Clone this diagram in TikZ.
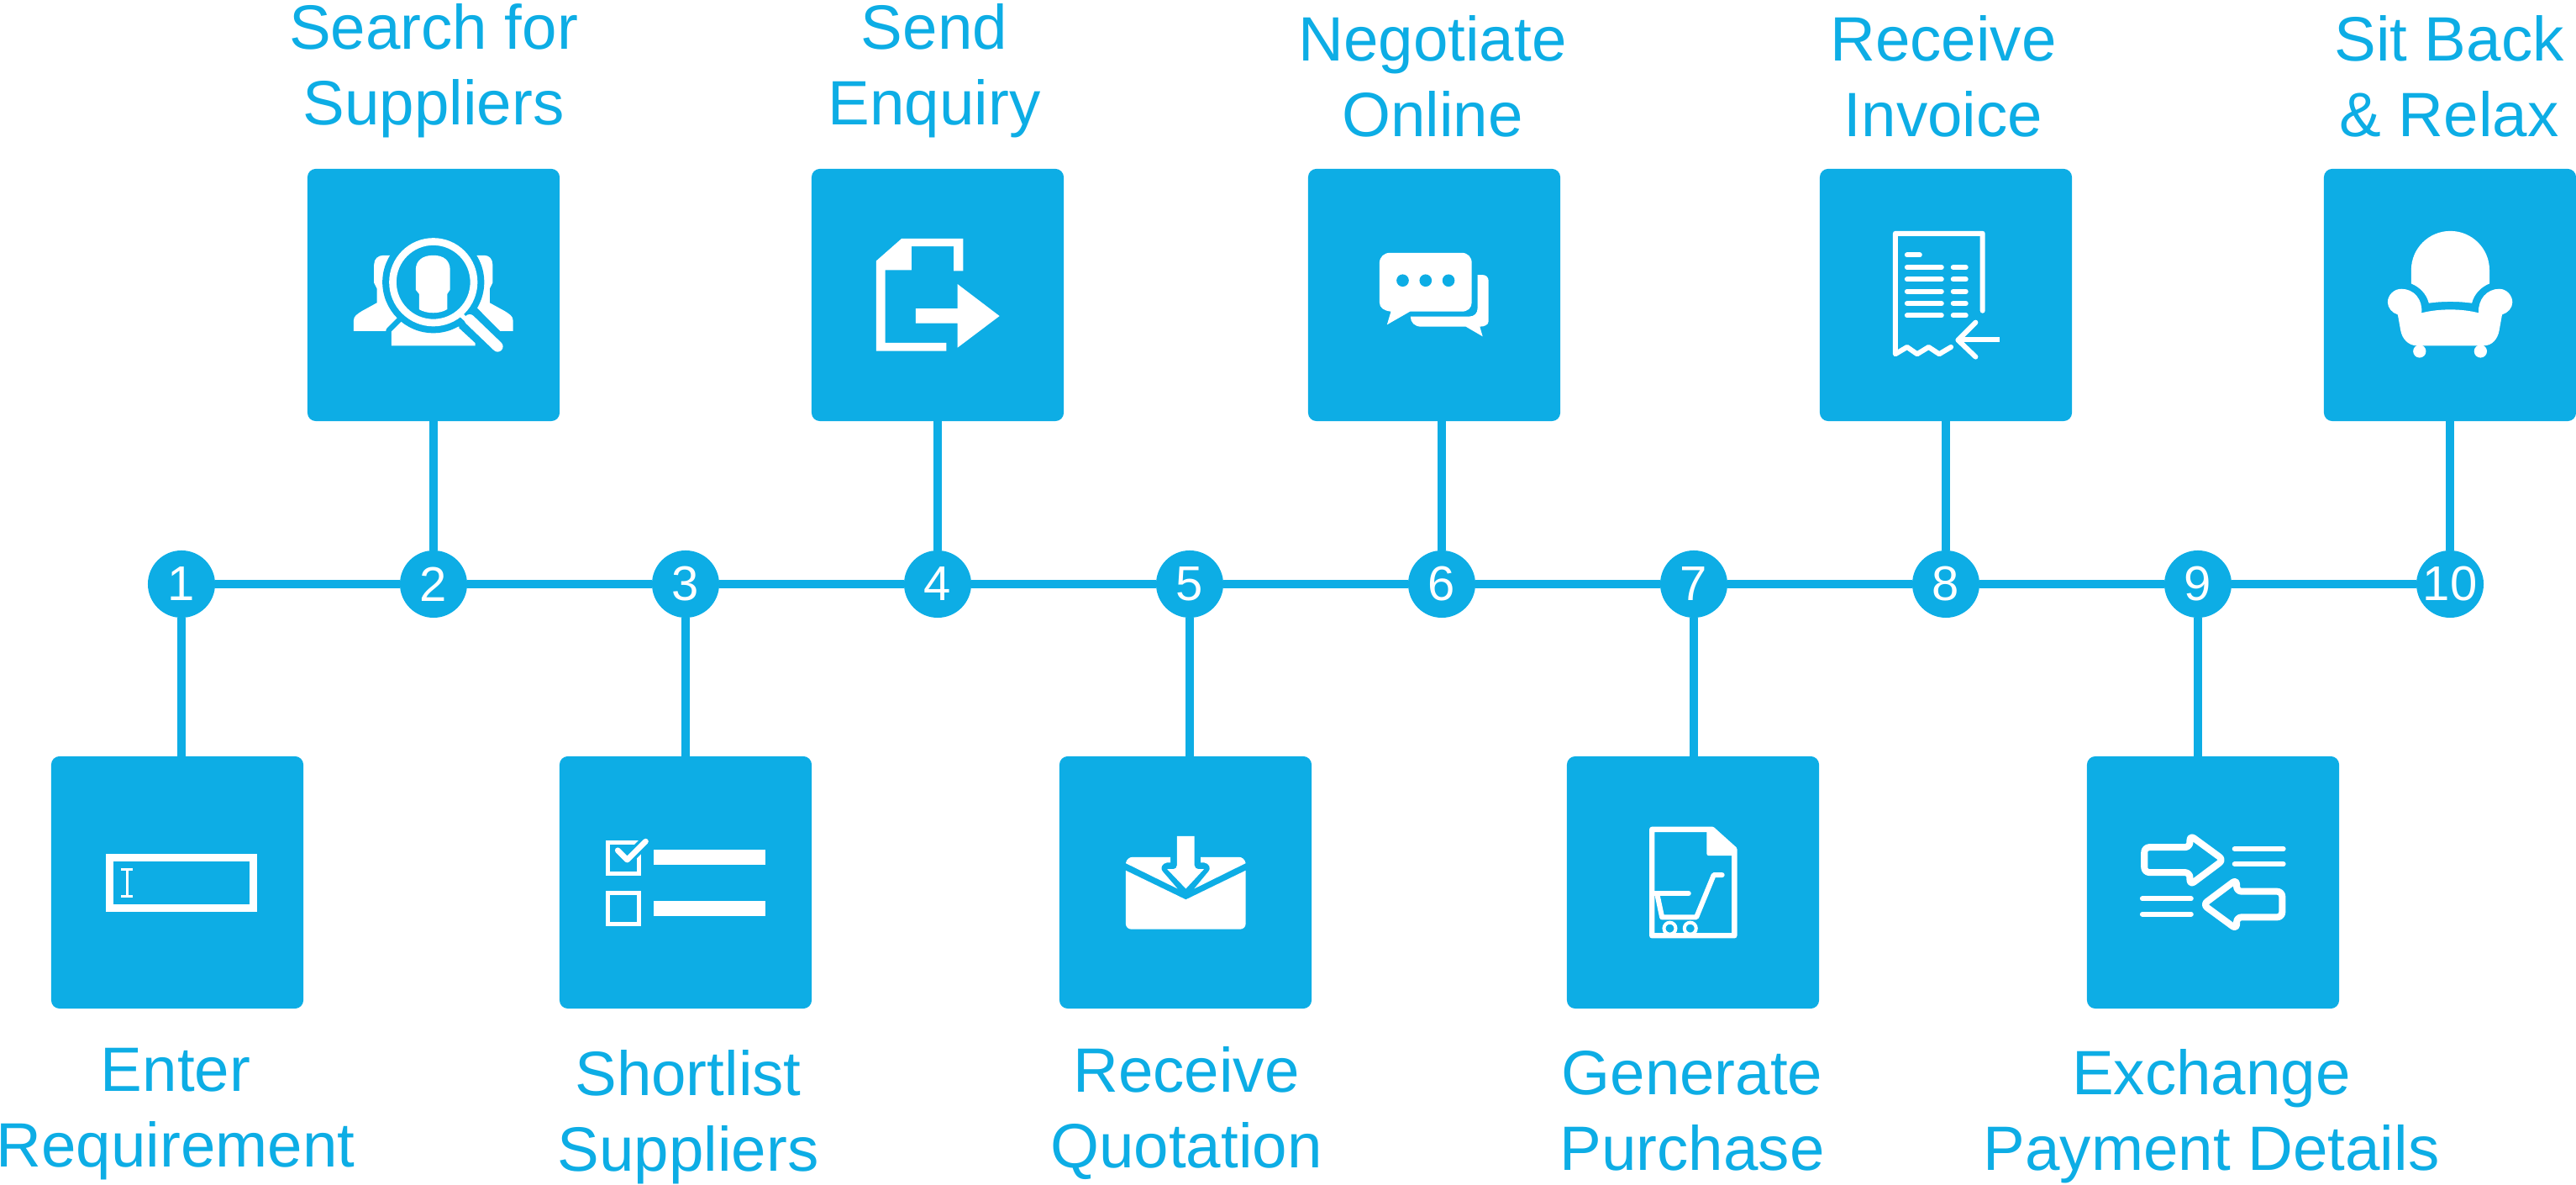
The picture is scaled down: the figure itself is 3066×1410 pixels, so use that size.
\documentclass[tikz,border=0pt]{standalone}
\usepackage{fontspec}
\setmainfont{Liberation Sans}
\definecolor{stepblue}{HTML}{0DADE5}
\def\zu{0.0949pt}
\tikzset{
	stepbox/.style={fill=stepblue, rounded corners=0.1cm, minimum size=3cm, inner sep=0pt, outer sep=0pt},
	stepdot/.style={circle, fill=stepblue, text=white, minimum size=0.8cm, inner sep=0pt, outer sep=0pt, font=\fontsize{16.5}{18}\selectfont},
	steptext/.style={text=stepblue, align=center, inner sep=0pt, font=\fontsize{21.2}{25.6}\selectfont},
	linkline/.style={draw=stepblue, line width=0.1cm},
	zoomed/.style 2 args={shift={(#1,#2)}, x=0.003333cm, y=-0.003333cm},
	whiteline/.style={draw=white, line width=#1*\zu, line cap=round, line join=round},
	blueline/.style={draw=stepblue, line width=#1*\zu, line cap=round, line join=round}
}
\begin{document}
\begin{tikzpicture}[x=0.01cm, y=-0.01cm]
	\useasboundingbox (0,0) rectangle (3066,1410);

	\node[stepdot] (c1) at (216,695) {1};
	\node[stepdot] (c2) at (516,695) {2};
	\node[stepdot] (c3) at (816,695) {3};
	\node[stepdot] (c4) at (1116,695) {4};
	\node[stepdot] (c5) at (1416,695) {5};
	\node[stepdot] (c6) at (1716,695) {6};
	\node[stepdot] (c7) at (2016,695) {7};
	\node[stepdot] (c8) at (2316,695) {8};
	\node[stepdot] (c9) at (2616,695) {9};
	\node[stepdot] (c10) at (2916,695) {10};

	\node[stepbox] (b1) at (211,1050) {};
	\node[stepbox] (b2) at (516,351) {};
	\node[stepbox] (b3) at (816,1050) {};
	\node[stepbox] (b4) at (1116,351) {};
	\node[stepbox] (b5) at (1411,1050) {};
	\node[stepbox] (b6) at (1707,351) {};
	\node[stepbox] (b7) at (2015,1050) {};
	\node[stepbox] (b8) at (2316,351) {};
	\node[stepbox] (b9) at (2634,1050) {};
	\node[stepbox] (b10) at (2916,351) {};

	\draw[linkline] (c1) -- (c2);
	\draw[linkline] (c2) -- (c3);
	\draw[linkline] (c3) -- (c4);
	\draw[linkline] (c4) -- (c5);
	\draw[linkline] (c5) -- (c6);
	\draw[linkline] (c6) -- (c7);
	\draw[linkline] (c7) -- (c8);
	\draw[linkline] (c8) -- (c9);
	\draw[linkline] (c9) -- (c10);

	\draw[linkline] (c1) -- (c1 |- b1.north);
	\draw[linkline] (c2) -- (c2 |- b2.south);
	\draw[linkline] (c3) -- (c3 |- b3.north);
	\draw[linkline] (c4) -- (c4 |- b4.south);
	\draw[linkline] (c5) -- (c5 |- b5.north);
	\draw[linkline] (c6) -- (c6 |- b6.south);
	\draw[linkline] (c7) -- (c7 |- b7.north);
	\draw[linkline] (c8) -- (c8 |- b8.south);
	\draw[linkline] (c9) -- (c9 |- b9.north);
	\draw[linkline] (c10) -- (c10 |- b10.south);

	\node[steptext] (t1) at (209,1326) {Enter\\Requirement};
	\node[steptext] (t2) at (516,84) {Search for\\Suppliers};
	\node[steptext] (t3) at (819,1329) {Shortlist\\Suppliers};
	\node[steptext] (t4) at (1112,84) {Send\\Enquiry};
	\node[steptext] (t5) at (1412,1325) {Receive\\Quotation};
	\node[steptext] (t6) at (1705,91) {Negotiate\\Online};
	\node[steptext] (t7) at (2014,1322) {Generate\\Purchase};
	\node[steptext] (t8) at (2313,91) {Receive\\Invoice};
	\node[steptext] (t9) at (2632,1328) {Exchange\\Payment Details};
	\node[steptext] (t10) at (2915,91) {Sit Back\\\& Relax};

	% enter requirement
	\begin{scope}[zoomed={50}{890}]
		\draw[whiteline=27, line cap=butt, line join=miter] (241.5,391.5) rectangle (754.5,571.5);
		\draw[whiteline=9, line cap=butt] (304,433) -- (304,530);
		\draw[whiteline=9, line cap=butt] (283,433) -- (326,433);
		\draw[whiteline=9, line cap=butt] (283,530) -- (326,530);
	\end{scope}

	% search for suppliers
	\begin{scope}[zoomed={360}{190}]
		\fill[white] (312,342) -- (290,342) .. controls (270,342) and (256,355) .. (256,375) -- (256,440) -- (266,460) -- (266,512) -- (215,540) .. controls (195,552) and (183,560) .. (183,575) -- (183,613) -- (430,613) -- (430,342) -- cycle;
		\fill[white] (624,342) -- (650,342) .. controls (668,342) and (680,355) .. (680,375) -- (680,440) -- (670,460) -- (670,512) -- (721,540) .. controls (741,552) and (753,560) .. (753,575) -- (753,613) -- (707,613) -- (600,505) -- (500,400) -- cycle;
		\draw[blueline=40, fill=white] (318,665) -- (318,615) -- (355,578) -- (468,578) -- (560,597) -- (618,650) -- (618,665) -- cycle;
		\fill[white] (318,665) -- (318,615) -- (355,578) -- (468,578) -- (560,597) -- (618,650) -- (618,665) -- cycle;
		\draw[blueline=90, line cap=butt] (590,568) -- (698,668);
		\fill[stepblue] (468,438) circle (182);
		\draw[whiteline=26] (468,438) circle (145);
		\fill[white] (417,535) -- (417,480) -- (405,465) -- (405,395) .. controls (405,360) and (430,342) .. (468,342) .. controls (505,342) and (528,360) .. (528,395) -- (528,465) -- (518,480) -- (518,535) .. controls (490,552) and (445,552) .. cycle;
		\draw[whiteline=16, line cap=butt] (565,553) -- (595,580);
		\draw[whiteline=38] (598,572) -- (698,668);
	\end{scope}

	% shortlist suppliers
	\begin{scope}[zoomed={660}{890}]
		\draw[whiteline=15, line cap=butt, line join=miter] (190.5,338.5) rectangle (301.5,448.5);
		\draw[whiteline=15, line cap=butt, line join=miter] (190.5,519.5) rectangle (301.5,630.5);
		\draw[blueline=40] (226,366) -- (260,400) -- (326,334);
		\draw[whiteline=20] (226,366) -- (260,400) -- (326,334);
		\fill[white] (354,363) rectangle (753,418);
		\fill[white] (354,547) rectangle (753,602);
	\end{scope}

	% send enquiry
	\begin{scope}[zoomed={960}{190}]
		\fill[white] (249,362) -- (340,282) -- (560,282) -- (560,398) -- (526,398) -- (526,310) -- (375,310) -- (375,395) -- (281,395) -- (281,655) -- (500,655) -- (500,684) -- (249,684) -- cycle;
		\fill[white] (390,532) -- (540,532) -- (540,445) -- (690,559) -- (540,672) -- (540,585) -- (390,585) -- cycle;
	\end{scope}

	% receive quotation
	\begin{scope}[zoomed={1255}{890}]
		\fill[white] (255,438) -- (470,542) -- (684,438) -- (684,628) .. controls (684,640) and (675,648) .. (664,648) -- (275,648) .. controls (264,648) and (255,640) .. (255,628) -- cycle;
		\fill[white] (255,412) .. controls (258,398) and (268,390) .. (280,390) -- (415,390) -- (415,410) -- (402,410) .. controls (385,412) and (375,430) .. (390,445) -- (440,503) -- cycle;
		\fill[white] (684,412) .. controls (681,398) and (671,390) .. (659,390) -- (523,390) -- (523,410) -- (536,410) .. controls (553,412) and (563,430) .. (548,445) -- (500,503) -- cycle;
		\fill[white] (438,315) -- (501,315) -- (501,420) .. controls (501,428) and (508,433) .. (515,433) -- (535,433) -- (470,503) -- (403,433) -- (425,433) .. controls (432,433) and (438,428) .. (438,420) -- cycle;
	\end{scope}

	% negotiate online
	\begin{scope}[zoomed={1550}{190}]
		\fill[white] (276,370) .. controls (276,348) and (292,333) .. (314,333) -- (570,333) .. controls (592,333) and (606,348) .. (606,370) -- (606,510) .. controls (606,530) and (592,543) .. (570,543) -- (385,543) -- (303,590) -- (317,543) .. controls (292,540) and (276,530) .. (276,510) -- cycle;
		\fill[stepblue] (359,432) circle (22);
		\fill[stepblue] (441,432) circle (22);
		\fill[stepblue] (523,432) circle (22);
		\fill[white] (627,412) -- (645,412) .. controls (657,412) and (666,421) .. (666,433) -- (666,578) .. controls (666,590) and (652,597) .. (635,597) -- (645,632) -- (585,597) -- (425,597) .. controls (402,597) and (387,582) .. (387,561) -- (595,561) .. controls (615,561) and (627,550) .. (627,530) -- cycle;
	\end{scope}

	% generate purchase
	\begin{scope}[zoomed={1860}{890}]
		\draw[whiteline=19] (319,291) -- (535,291) -- (614,362) -- (614,671) -- (319,671) -- cycle;
		\fill[white] (515,291) -- (535,291) -- (614,362) -- (614,385) -- (522,385) .. controls (518,385) and (515,382) .. (515,378) -- cycle;
		\draw[whiteline=18] (328,520) -- (450,520);
		\draw[whiteline=18] (338,525) -- (355,605) -- (478,605) -- (540,454) -- (570,454);
		\draw[draw=white, line width=12*\zu, fill=stepblue] (383,645) circle (21);
		\draw[draw=white, line width=12*\zu, fill=stepblue] (456,645) circle (21);
	\end{scope}

	% receive invoice
	\begin{scope}[zoomed={2160}{190}]
		\draw[whiteline=18] (600,540) -- (600,264) -- (288,264) -- (288,695) -- (330,670) -- (366,695) -- (407,670) -- (445,695) -- (487,670);
		\draw[whiteline=18] (330,341) -- (375,341);
		\draw[whiteline=18] (330,385) -- (453,385);
		\draw[whiteline=18] (495,385) -- (540,385);
		\draw[whiteline=18] (330,428) -- (453,428);
		\draw[whiteline=18] (495,428) -- (540,428);
		\draw[whiteline=18] (330,471) -- (453,471);
		\draw[whiteline=18] (495,471) -- (540,471);
		\draw[whiteline=18] (330,514) -- (453,514);
		\draw[whiteline=18] (495,514) -- (540,514);
		\draw[whiteline=18] (330,557) -- (453,557);
		\draw[whiteline=18] (495,557) -- (540,557);
		\draw[whiteline=18, line cap=butt] (660,643) -- (515,643);
		\draw[whiteline=18] (575,582) -- (512,645) -- (575,705);
	\end{scope}

	% exchange payment details
	\begin{scope}[zoomed={2480}{890}]
		\draw[whiteline=24, rounded corners=18*\zu] (217,355) -- (380,355) -- (380,312) -- (500,400) -- (380,490) -- (380,445) -- (217,445) -- cycle;
		\draw[whiteline=24, rounded corners=18*\zu] (710,605) -- (547,605) -- (547,648) -- (427,560) -- (547,470) -- (547,513) -- (710,513) -- cycle;
		\draw[whiteline=18] (540,361) -- (714,361);
		\draw[whiteline=18] (540,415) -- (714,415);
		\draw[whiteline=18] (210,539) -- (384,539);
		\draw[whiteline=18] (210,594) -- (384,594);
	\end{scope}

	% sit back
	\begin{scope}[zoomed={2760}{190}]
		\fill[white] (330,443) -- (330,395) .. controls (330,317) and (393,255) .. (470,255) .. controls (547,255) and (610,317) .. (610,395) -- (610,443) .. controls (580,455) and (555,480) .. (547,513) .. controls (500,506) and (440,506) .. (393,513) .. controls (385,480) and (360,455) .. (330,443) -- cycle;
		\fill[white] (367,548) .. controls (372,500) and (340,462) .. (295,462) .. controls (268,462) and (246,484) .. (246,510) .. controls (246,530) and (262,548) .. (282,554) -- (292,610) .. controls (297,640) and (320,665) .. (350,665) -- (590,665) .. controls (620,665) and (640,640) .. (645,610) -- (655,554) .. controls (676,548) and (692,530) .. (692,510) .. controls (692,484) and (670,462) .. (645,462) .. controls (600,462) and (568,500) .. (571,548) .. controls (510,532) and (430,532) .. (367,548) -- cycle;
		\fill[white] (360,685) circle (23);
		\fill[white] (578,685) circle (23);
	\end{scope}
\end{tikzpicture}
\end{document}
